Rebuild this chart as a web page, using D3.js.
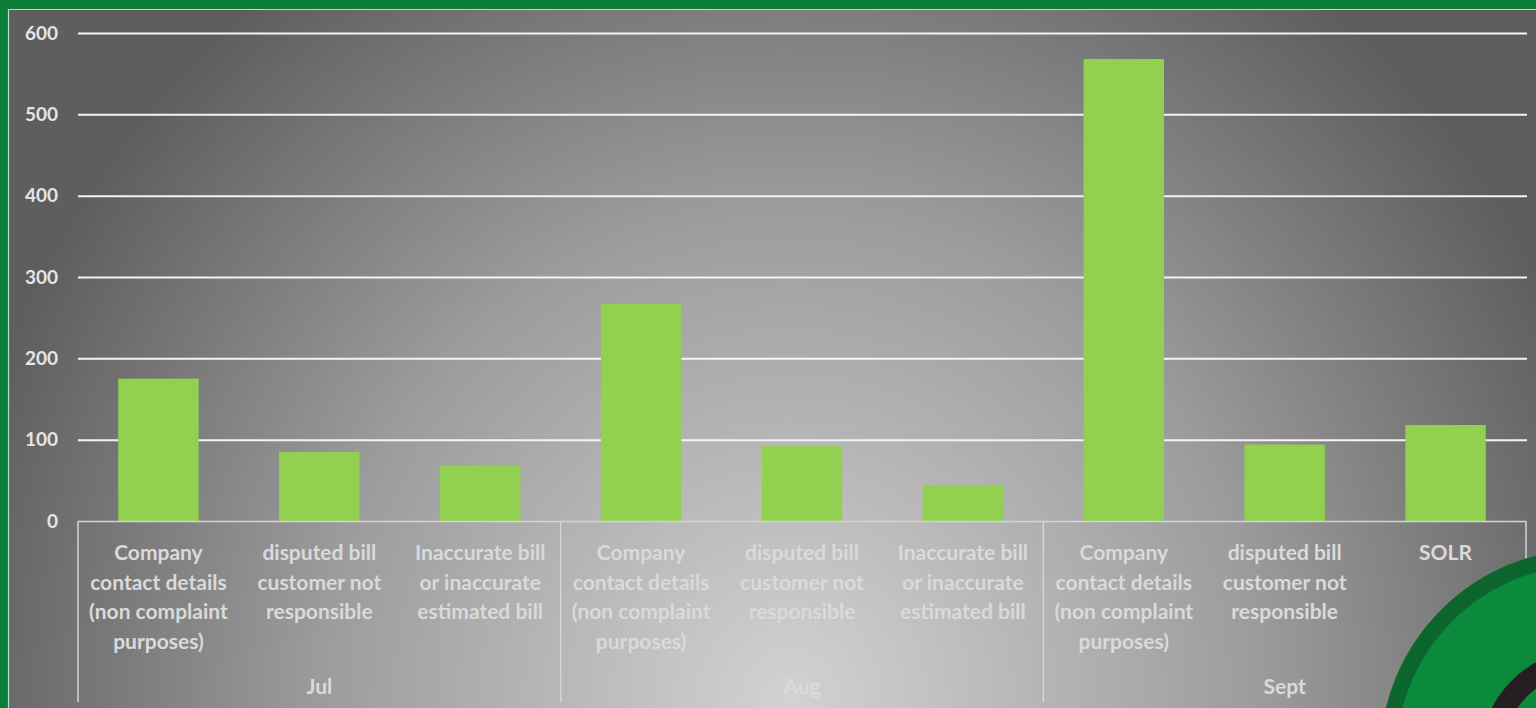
<!DOCTYPE html>
<html><head><meta charset="utf-8">
<script src="https://cdn.jsdelivr.net/npm/d3@7"></script>
<style>html,body{margin:0;padding:0;overflow:hidden;background:#0a7d36}</style>
</head><body>
<svg id="c" width="1536" height="708"></svg>
<script>
const months = ["Jul", "Aug", "Sept"];
const categories = [
  "Company\ncontact details\n(non complaint\npurposes)",
  "disputed bill\ncustomer not\nresponsible",
  "Inaccurate bill\nor inaccurate\nestimated bill",
  "Company\ncontact details\n(non complaint\npurposes)",
  "disputed bill\ncustomer not\nresponsible",
  "Inaccurate bill\nor inaccurate\nestimated bill",
  "Company\ncontact details\n(non complaint\npurposes)",
  "disputed bill\ncustomer not\nresponsible",
  "SOLR"
];
const categoryMonth = ["Jul","Jul","Jul","Aug","Aug","Aug","Sept","Sept","Sept"];
const values = [175, 85, 68, 267, 92, 44, 568, 94, 118];
const yTicks = [0, 100, 200, 300, 400, 500, 600];

const svg = d3.select("#c");
const W = 1536, H = 708;
const defs = svg.append("defs");
const rg = defs.append("radialGradient").attr("id","bg")
  .attr("gradientUnits","userSpaceOnUse").attr("cx",790).attr("cy",700).attr("r",850)
  .attr("gradientTransform","translate(790,700) scale(1,1.05) translate(-790,-700)");
rg.append("stop").attr("offset","0").attr("stop-color","#d2d2d2");
rg.append("stop").attr("offset","0.55").attr("stop-color","#9c9c9c");
rg.append("stop").attr("offset","1").attr("stop-color","#5e5e5e");

// frame
svg.append("rect").attr("x",0).attr("y",0).attr("width",W).attr("height",H).attr("fill","#0a7d36");
svg.append("rect").attr("x",8).attr("y",9).attr("width",W-8).attr("height",H-9).attr("fill","url(#bg)");
svg.append("path").attr("d",`M8.5,${H} V9.5 H${W}`).attr("fill","none").attr("stroke","#b8dcc4").attr("stroke-width",1.2);

const idx = d3.range(categories.length);
const x = d3.scaleBand().domain(idx).range([78, 1526]).paddingInner(0.5).paddingOuter(0.25);
const y = d3.scaleLinear().domain([0, 600]).range([521, 33]);

// gridlines
const grid = svg.append("g")
  .call(d3.axisLeft(y).tickValues(yTicks.filter(t=>t>0)).tickSize(-(1527-78)).tickFormat(""))
  .attr("transform","translate(78,0)");
grid.select(".domain").remove();
grid.selectAll("line").attr("stroke","#f4f4f4").attr("stroke-width",2);

const font = "Lato, 'Open Sans', sans-serif";

// y labels
const yAxis = svg.append("g").attr("transform","translate(58,0)")
  .call(d3.axisLeft(y).tickValues(yTicks).tickSize(0).tickPadding(0));
yAxis.select(".domain").remove();
yAxis.selectAll("text").attr("fill","#e6e6e6").attr("font-family",font)
  .attr("font-weight","bold").attr("font-size",19).attr("text-anchor","end").attr("dy","0.32em");

// bars
svg.append("g").selectAll("rect").data(idx).join("rect")
  .attr("x", i => x(i)).attr("width", x.bandwidth())
  .attr("y", i => y(values[i])).attr("height", i => y(0) - y(values[i]))
  .attr("fill","#92d050");

// category axis box
const axisColor = "#d4d4d4";
svg.append("line").attr("x1",78).attr("x2",1526).attr("y1",y(0)+0.5).attr("y2",y(0)+0.5)
  .attr("stroke",axisColor).attr("stroke-width",1.5);
const boundaries = [78];
months.forEach(m => {
  const ids = idx.filter(i => categoryMonth[i] === m);
  const last = ids[ids.length-1];
  boundaries.push(x(last) + x.bandwidth() + x.step()*x.paddingInner()/2);
});
boundaries[boundaries.length-1] = 1526;
svg.append("g").selectAll("line").data(boundaries).join("line")
  .attr("x1", d=>d).attr("x2", d=>d).attr("y1", y(0)).attr("y2", 702)
  .attr("stroke", axisColor).attr("stroke-width",1.5);

const labelColor = "#dadada";
const fs = 21;
const cl = svg.append("g");
idx.forEach(i => {
  const lines = categories[i].split("\n");
  const t = cl.append("text").attr("x", x(i)+x.bandwidth()/2).attr("y", 560)
    .attr("text-anchor","middle").attr("fill",labelColor).attr("font-family",font)
    .attr("font-weight","bold").attr("font-size",fs);
  lines.forEach((ln, k) => t.append("tspan").attr("x", x(i)+x.bandwidth()/2).attr("y", 560 + k*29.5).text(ln));
});
months.forEach((m, k) => {
  const cx = (boundaries[k] + boundaries[k+1]) / 2;
  svg.append("text").attr("x", cx).attr("y", 694).attr("text-anchor","middle")
    .attr("fill",labelColor).attr("font-family",font).attr("font-weight","bold").attr("font-size",fs).text(m);
});

// decorative logo in corner
const lg = svg.append("g").attr("transform","translate(1588,757)");
lg.append("circle").attr("r",208).attr("fill","#0b652c");
lg.append("circle").attr("r",192).attr("fill","#0a8a3a");
lg.append("circle").attr("r",108).attr("fill","#231f20");
lg.append("circle").attr("r",86).attr("fill","#0a8a3a");
</script>
</body></html>
